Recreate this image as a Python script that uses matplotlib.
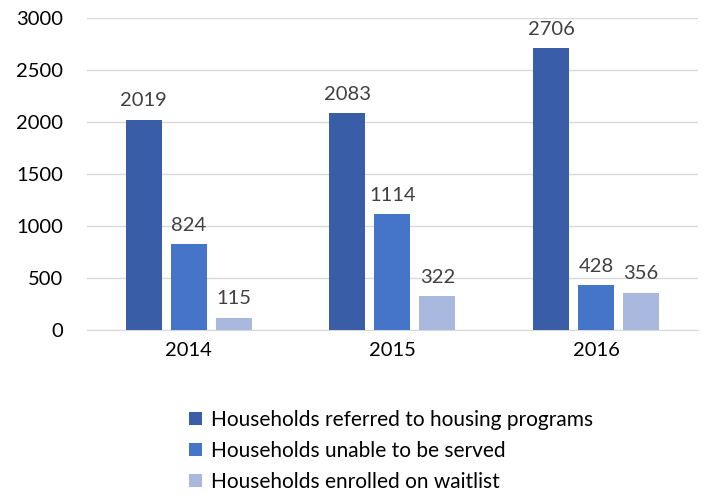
import numpy as np
import matplotlib.pyplot as plt

plt.rcParams['font.family'] = ['Lato', 'DejaVu Sans']

years = ['2014', '2015', '2016']
referred = [2019, 2083, 2706]
unable = [824, 1114, 428]
waitlist = [115, 322, 356]

labels = ['Households referred to housing programs',
          'Households unable to be served',
          'Households enrolled on waitlist']
colors = ['#3A5DA8', '#4575C8', '#A8B8DE']

fig = plt.figure(figsize=(7.02, 4.96), dpi=100)
ax = fig.add_axes([0.124, 0.335, 0.870, 0.629])

x = np.arange(len(years))
w = 0.177
step = 0.221
handles = []
for i, (vals, c, lab) in enumerate(zip([referred, unable, waitlist], colors, labels)):
    bars = ax.bar(x + (i - 1) * step, vals, w, color=c, label=lab, zorder=3)
    handles.append(bars)
    for b, v in zip(bars, vals):
        ax.text(b.get_x() + b.get_width() / 2, v + 100, str(v),
                ha='center', va='bottom', fontsize=14.5, color='#404040')

ax.set_ylim(0, 3000)
ax.set_xlim(-0.5, 2.5)
ax.set_yticks(range(0, 3001, 500))
ax.set_xticks(x)
ax.set_xticklabels(years)
ax.yaxis.grid(True, color='#D9D9D9', linewidth=1, zorder=0)
ax.tick_params(axis='both', length=0, labelsize=14.5, colors='#000000')
ax.tick_params(axis='x', pad=9)
ax.tick_params(axis='y', pad=17)
for s in ['top', 'right', 'left']:
    ax.spines[s].set_visible(False)
ax.spines['bottom'].set_color('#D9D9D9')

fig.legend(handles=handles, loc='upper left', bbox_to_anchor=(0.258, 0.19),
           frameon=False, fontsize=15, handlelength=0.6, handleheight=0.6,
           handletextpad=0.45, labelspacing=0.52, borderaxespad=0)

plt.savefig('out.png', dpi=100)
